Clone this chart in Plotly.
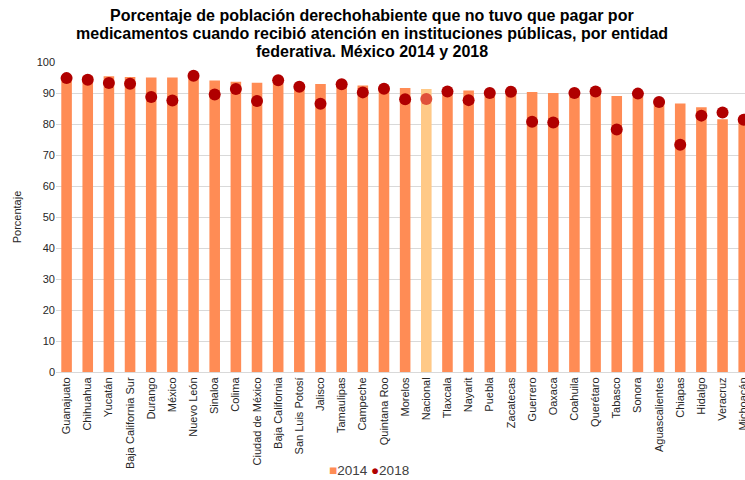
import plotly.graph_objects as go

entidades = ["Guanajuato", "Chihuahua", "Yucatán", "Baja California Sur", "Durango", "México",
             "Nuevo León", "Sinaloa", "Colima", "Ciudad de México", "Baja California",
             "San Luis Potosí", "Jalisco", "Tamaulipas", "Campeche", "Quintana Roo", "Morelos",
             "Nacional", "Tlaxcala", "Nayarit", "Puebla", "Zacatecas", "Guerrero", "Oaxaca",
             "Coahuila", "Querétaro", "Tabasco", "Sonora", "Aguascalientes", "Chiapas",
             "Hidalgo", "Veracruz", "Michoacán"]
v2014 = [95.6, 95.5, 95.4, 95.2, 95.0, 95.0, 94.8, 94.0, 93.6, 93.3, 93.1, 92.9, 92.9, 92.6,
         92.4, 92.0, 91.6, 91.3, 91.1, 90.8, 90.6, 90.4, 90.3, 90.0, 90.0, 89.9, 89.0, 88.8,
         87.6, 86.6, 85.4, 81.5, 81.0]
v2018 = [94.8, 94.3, 93.2, 93.0, 88.7, 87.6, 95.6, 89.5, 91.3, 87.4, 94.1, 92.0, 86.5, 92.8,
         90.2, 91.4, 88.0, 88.1, 90.5, 87.7, 90.0, 90.4, 80.7, 80.5, 90.0, 90.5, 78.2, 89.8,
         87.1, 73.3, 82.7, 83.7, 81.4]
title_lines = ["Porcentaje de población derechohabiente que no tuvo que pagar por",
               "medicamentos cuando recibió atención en instituciones públicas, por entidad",
               "federativa. México 2014 y 2018"]
series_names = ["2014", "2018"]

BAR = "#FF8C55"
BAR_NAC = "#FFC987"
DOT = "#B00000"
DOT_NAC = "#E0503A"
FONT = "Liberation Sans, Arial, sans-serif"

W, H = 745, 480
PLOT_L = 56
PLOT_TOP = 62
PLOT_H = 310
PLOT_W = W - PLOT_L
CAT_W = 21.16
x_max = -0.5 + PLOT_W / CAT_W

bar_colors = [BAR_NAC if e == "Nacional" else BAR for e in entidades]
dot_colors = [DOT_NAC if e == "Nacional" else DOT for e in entidades]

fig = go.Figure()
fig.add_trace(go.Bar(x=entidades, y=v2014, name=series_names[0],
                     marker=dict(color=bar_colors, line=dict(width=0))))
fig.add_trace(go.Scatter(x=entidades, y=v2018, name=series_names[1], mode="markers",
                         cliponaxis=False,
                         marker=dict(color=dot_colors, size=12)))


def px_to_paper_x(px):
    return (px - PLOT_L) / PLOT_W


def px_to_paper_y(py):
    return 1 + (PLOT_TOP - py) / PLOT_H


title_y_px = [15, 33, 51]
annotations = []
for line, ypx in zip(title_lines, title_y_px):
    annotations.append(dict(text="<b>" + line + "</b>", xref="paper", yref="paper",
                            x=px_to_paper_x(372), xanchor="center",
                            y=px_to_paper_y(ypx), yanchor="middle",
                            showarrow=False,
                            font=dict(size=16, color="#000000", family=FONT)))
legend_txt = (f"<span style='color:{BAR}'>■</span>{series_names[0]} "
              f"<span style='color:{DOT}'>●</span>{series_names[1]}")
annotations.append(dict(text=legend_txt, xref="paper", yref="paper",
                        x=px_to_paper_x(369), xanchor="center",
                        y=px_to_paper_y(470), yanchor="middle",
                        showarrow=False, font=dict(size=13.5, color="#404040", family=FONT)))

fig.update_layout(
    width=W, height=H,
    margin=dict(l=PLOT_L, r=0, t=PLOT_TOP, b=H - PLOT_TOP - PLOT_H, autoexpand=False),
    paper_bgcolor="white", plot_bgcolor="white",
    font=dict(family=FONT, color="#404040", size=10),
    bargap=0.5,
    showlegend=False,
    hovermode=False,
    annotations=annotations,
)
fig.update_xaxes(range=[-0.5, x_max], tickangle=-90, tickfont=dict(size=11, color="#262626"),
                 showgrid=False, showline=True, linecolor="#d9d9d9", ticks="",
                 automargin=False, fixedrange=True)
fig.update_yaxes(range=[0, 100], dtick=10, showgrid=True, gridcolor="#d9d9d9", gridwidth=1,
                 zeroline=False, tickfont=dict(size=11, color="#262626"),
                 title=dict(text="Porcentaje", font=dict(size=11, color="#262626"), standoff=12),
                 ticks="", automargin=False, fixedrange=True)

fig.write_html("out.html",
               config={"displayModeBar": False, "staticPlot": True},
               post_script="document.body.style.margin='0';document.body.style.overflow='hidden';"
                           "document.documentElement.style.overflow='hidden';")
